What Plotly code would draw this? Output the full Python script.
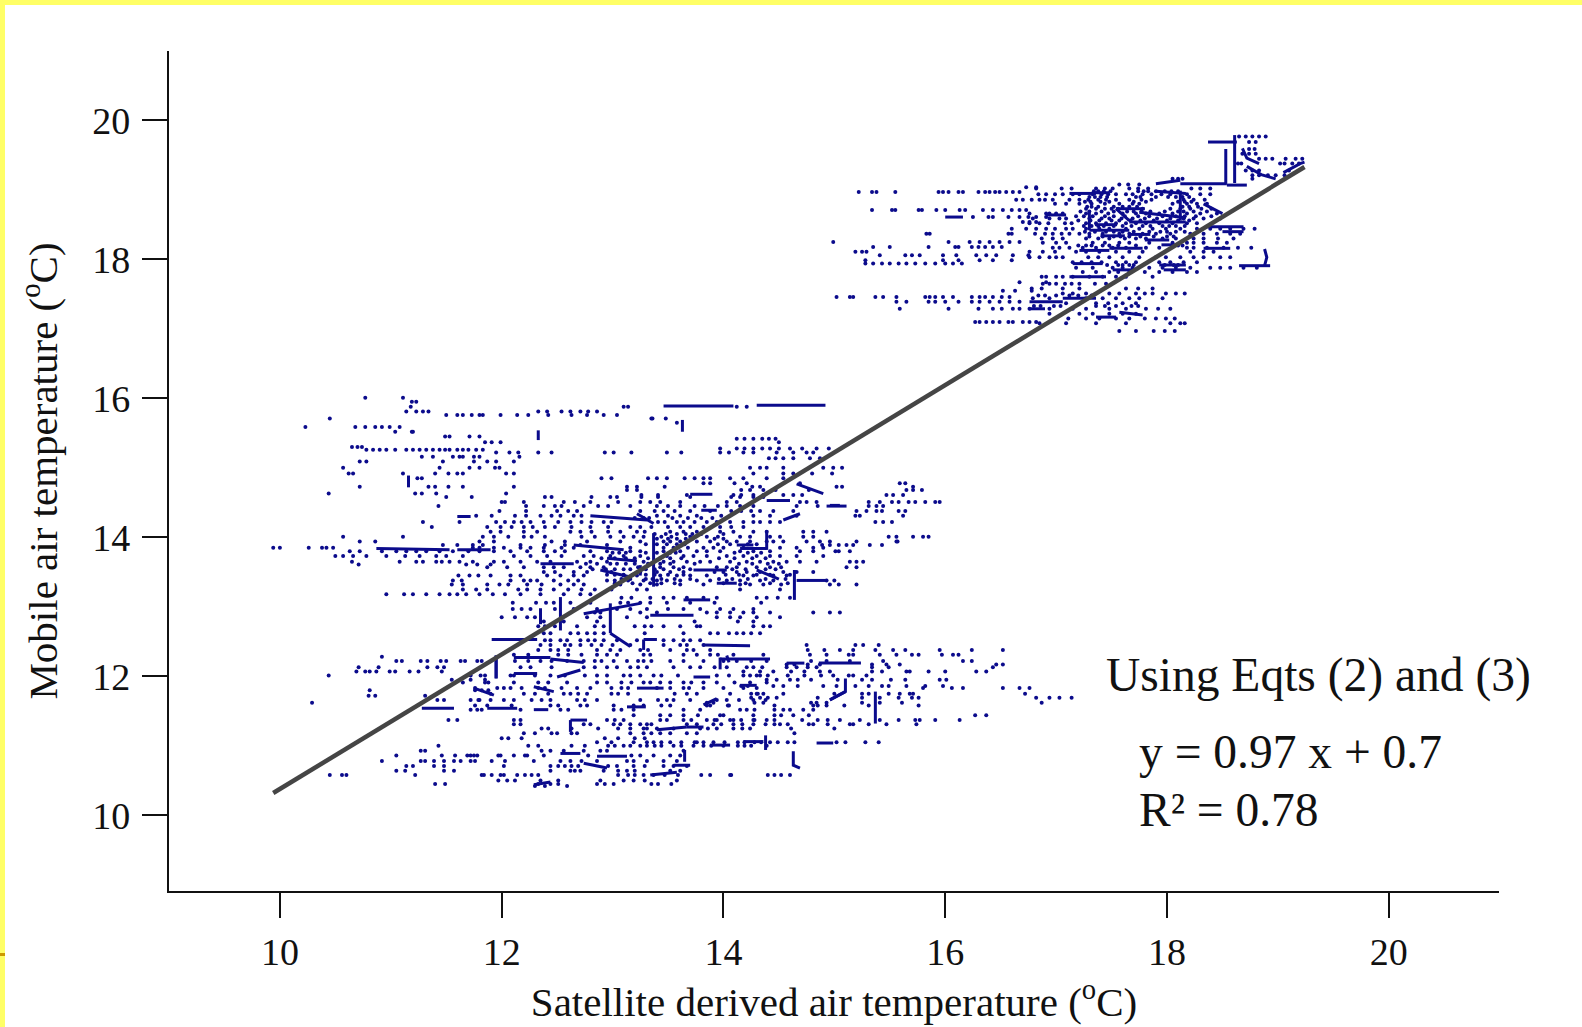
import plotly.graph_objects as go

# Fitted line
fit_x = [9.94, 19.24]
fit_y = [10.32, 19.33]

x_ticks = [10, 12, 14, 16, 18, 20]
y_ticks = [10, 12, 14, 16, 18, 20]

# Separate dots: (mobile temperature, [satellite temperatures])
upper_rows = [
    (19.77, [18.65, 18.71, 18.77, 18.83, 18.89]),
    (19.69, [18.74, 18.8]),
    (19.59, [18.74, 18.79]),
    (19.52, [18.68, 18.74, 18.8]),
    (19.45, [18.83, 18.89, 18.95, 19.07, 19.16, 19.22]),
    (19.38, [18.64, 18.67, 19.02, 19.06, 19.13, 19.19]),
    (19.28, [18.71, 18.77, 18.83, 19.1]),
    (19.21, [18.77, 18.83, 18.91, 18.98, 19.06]),
    (19.16, [18.05, 18.1, 18.14, 18.77]),
    (19.08, [17.57, 17.65, 17.75]),
    (19.04, [16.73, 16.82]),
    (19.02, [16.82, 17.05, 17.14, 17.36, 17.44, 17.51, 17.66, 17.74, 17.83, 18.22, 18.3, 18.39]),
    (18.97, [15.22, 15.34, 15.38, 15.55, 15.94, 15.98, 16.03, 16.12, 16.16, 16.3, 16.36, 16.4, 16.45, 16.49, 16.55, 16.61, 16.67]),
    (18.94, [16.84, 16.91, 16.99, 17.06, 17.15, 17.21, 17.33, 17.41, 17.47, 17.54, 17.63, 17.69, 17.78, 17.86, 17.95, 18.03, 18.18, 18.3, 18.39]),
    (18.86, [16.64, 16.7, 16.78, 16.85, 16.9, 16.97, 17.12, 17.21, 17.29, 17.38, 17.45, 17.54, 17.66, 17.77, 17.86, 18.15, 18.24, 18.34]),
    (18.8, [16.99, 17.09, 17.21, 17.32, 17.44, 17.57, 17.69, 17.75, 18.05, 18.18, 18.27, 18.36]),
    (18.73, [17.27, 17.36, 17.44, 17.5, 17.56, 17.78, 18.03, 18.12, 18.21, 18.31, 18.4]),
    (18.71, [15.34, 15.52, 15.55, 15.76, 15.79, 15.92, 16.0, 16.13, 16.18, 16.34, 16.43, 16.52, 16.6, 16.67, 16.73]),
    (18.66, [16.76, 16.91, 16.94, 17.0, 17.06, 17.27, 17.36, 17.47, 17.6, 17.72, 17.81, 17.93, 18.05, 18.18, 18.3, 18.45]),
    (18.61, [16.25, 16.39, 16.43, 16.57, 16.67, 16.75, 16.82, 16.91]),
    (18.59, [16.79, 16.94, 17.03, 17.09, 17.3, 17.41, 17.48, 17.59, 17.69, 17.8, 17.91, 18.03, 18.15, 18.24, 18.33, 18.48]),
    (18.54, [16.7, 16.76, 16.82]),
    (18.52, [16.76, 16.85, 16.93, 17.08, 17.14, 17.27, 17.36, 17.45, 17.54, 17.63, 17.72, 17.81, 17.93, 18.05, 18.18, 18.27]),
    (18.44, [16.6, 16.73, 16.82, 16.91, 16.99, 17.09, 17.15, 17.27, 17.39, 17.48, 17.63, 17.75, 17.87, 17.99, 18.12, 18.27, 18.39, 18.48, 18.57, 18.69, 18.79]),
    (18.37, [15.83, 15.86, 16.57, 16.6, 16.81, 16.9, 16.97, 17.05, 17.12, 17.21, 17.3, 17.42, 17.57, 17.66, 17.78, 17.9, 18.03, 18.21, 18.33, 18.45, 18.57, 18.66]),
    (18.3, [16.87, 16.97, 17.06, 17.27, 17.38, 17.48, 17.62, 17.72, 17.81, 17.96, 18.08, 18.24, 18.33, 18.46, 18.6]),
    (18.25, [14.99, 16.03, 16.22, 16.31, 16.4, 16.49, 16.58, 16.67]),
    (18.24, [16.88, 17.0, 17.09, 17.33, 17.44, 17.57, 17.66, 17.84, 18.05, 18.18, 18.24, 18.33, 18.45, 18.54]),
    (18.18, [15.35, 15.5, 15.85, 16.09, 16.12, 16.24, 16.3, 16.36, 16.43, 16.51]),
    (18.17, [16.97, 17.03, 17.12, 17.24, 17.36, 17.51, 17.63, 17.81, 17.93, 18.18, 18.24, 18.36, 18.51, 18.64, 18.76]),
    (18.11, [15.19, 15.25, 15.29, 16.76, 16.88, 16.99, 17.18, 17.27, 17.39, 17.54, 17.66, 17.78, 18.21, 18.33, 18.42]),
    (18.06, [15.41, 15.64, 15.7, 15.77, 15.98, 16.1, 16.28, 16.37, 16.46, 16.61, 16.75]),
    (18.03, [16.76, 16.85, 16.94, 17.0, 17.06, 17.29, 17.38, 17.48, 17.6, 17.75, 17.9, 17.99, 18.12, 18.24, 18.33, 18.48, 18.57]),
    (17.99, [15.28, 15.98, 16.12, 16.31, 16.43, 16.6]),
    (17.96, [17.15, 17.23, 17.32, 17.41, 17.54, 17.63, 17.72, 17.93, 18.03, 18.15, 18.27]),
    (17.94, [15.28, 15.35, 15.43, 15.5, 15.58, 15.65, 15.73, 15.82, 15.91, 16.0, 16.07, 16.15]),
    (17.88, [17.18, 17.33, 17.51, 17.6, 17.69, 17.84, 17.96, 18.08, 18.21, 18.39, 18.48, 18.57, 18.69, 18.81]),
    (17.82, [17.24, 17.36, 17.48, 17.56, 17.66, 17.8, 17.93, 18.05, 18.18, 18.27]),
    (17.75, [16.87, 16.91, 17.0, 17.06, 17.15, 17.3, 17.42, 17.54, 17.63, 17.87]),
    (17.67, [16.67, 16.91]),
    (17.65, [16.88, 16.94, 17.0, 17.08, 17.14, 17.21, 17.35, 17.45]),
    (17.58, [16.78, 16.87, 17.06, 17.21, 17.63, 17.74, 17.87]),
    (17.55, [16.52, 16.63, 16.78]),
    (17.51, [17.06, 17.15, 17.27, 17.48, 17.57, 17.72, 17.8, 17.87, 17.99, 18.08, 18.16]),
    (17.46, [15.02, 15.14, 15.17, 15.37, 15.44, 15.56, 15.82, 15.86, 15.91, 15.98, 16.07, 16.24, 16.31, 16.36, 16.43, 16.51, 16.58]),
    (17.44, [16.79, 16.94, 17.27, 17.42, 17.54, 17.66, 17.75, 17.96]),
    (17.39, [15.56, 15.65, 15.85, 15.91, 16.0, 16.12, 16.24, 16.31, 16.4, 16.49, 16.58, 16.67]),
    (17.37, [17.09, 17.36, 17.47, 17.6, 17.72]),
    (17.29, [15.59, 16.03, 16.3, 16.43, 16.51, 16.61, 16.67, 16.76, 16.94, 17.15, 17.27, 17.48, 17.63, 17.81, 17.92, 18.03]),
    (17.22, [16.94, 17.21, 17.33, 17.48, 17.6, 17.72]),
    (17.15, [17.11, 17.27, 17.39, 17.54, 17.66, 17.8, 17.9, 17.99, 18.07]),
    (17.1, [16.27, 16.31, 16.37, 16.43, 16.49, 16.57, 16.61, 16.7, 16.76, 16.82]),
    (17.08, [16.85, 17.09, 17.36, 17.63, 18.03, 18.12, 18.16]),
    (16.97, [17.57, 17.72, 17.88, 17.98, 18.07]),
]

# Extra dots in the two darkest knots of the cloud
upper_core_rows = [
    (18.98, [17.34, 17.38, 17.43, 17.49, 17.74, 17.79, 17.83, 17.9, 17.98, 18.04, 18.1]),
    (18.9, [17.3, 17.35, 17.4, 17.46, 17.72, 17.76, 17.9, 18.01, 18.08, 18.14, 18.2]),
    (18.83, [17.26, 17.31, 17.4, 17.48, 17.7, 17.81, 18.1, 18.16, 18.22]),
    (18.76, [17.28, 17.32, 17.38, 17.52, 17.6, 17.66, 17.73, 18.14, 18.2, 18.28]),
    (18.69, [17.22, 17.3, 17.41, 17.52, 17.64, 17.7, 17.77, 17.85, 17.98, 18.1, 18.15, 18.24, 18.36]),
    (18.62, [17.18, 17.25, 17.33, 17.44, 17.52, 17.62, 17.74, 17.84, 17.96, 18.08, 18.16, 18.26, 18.4]),
    (18.56, [17.2, 17.31, 17.39, 17.5, 17.57, 17.67, 17.76, 17.88, 18.0, 18.1, 18.2]),
    (18.48, [17.25, 17.32, 17.38, 17.43, 17.52, 17.6, 17.68, 17.78, 17.85, 17.96, 18.02, 18.08, 18.16]),
    (18.4, [17.26, 17.35, 17.45, 17.52, 17.6, 17.7, 17.84, 17.94, 18.0, 18.08, 18.16]),
    (18.33, [17.3, 17.42, 17.52, 17.58, 17.66, 17.76, 17.88, 18.0, 18.06]),
    (18.2, [17.2, 17.27, 17.32, 17.42, 17.48, 17.56, 17.72, 18.1, 18.14]),
    (17.92, [17.46, 17.56, 17.6, 17.66, 17.7, 17.98, 18.06, 18.1]),
    (17.48, [16.84, 16.9, 17.0, 17.12, 17.2, 17.32]),
    (17.33, [16.8, 16.86, 16.98, 17.04, 17.36, 17.44, 17.54, 17.68, 17.74]),
]
central_core_rows = [
    (14.28, [13.2, 13.28, 13.33, 13.54, 13.68, 13.8, 13.9]),
    (14.05, [13.38, 13.48, 13.58, 13.66, 13.72, 13.8, 14.0]),
    (13.98, [13.4, 13.5, 13.58, 13.66, 13.72, 13.92, 14.0]),
    (13.9, [13.3, 13.4, 13.49, 13.58, 13.65, 13.95, 14.06, 14.22, 14.3]),
    (13.78, [13.0, 13.06, 13.12, 13.3, 13.4, 13.52, 13.57, 14.1, 14.22, 14.34]),
    (13.7, [12.9, 13.02, 13.12, 13.2, 13.32, 13.43, 13.52, 13.62, 13.96, 14.1, 14.26, 14.38]),
    (13.62, [12.76, 12.86, 12.98, 13.04, 13.12, 13.2, 13.32, 13.43, 13.52, 13.74, 14.14, 14.26, 14.4, 14.5]),
    (13.54, [12.82, 12.94, 13.02, 13.1, 13.16, 13.3, 13.38, 13.46, 13.6, 13.7, 14.08, 14.2, 14.38, 14.47]),
    (13.46, [12.95, 13.02, 13.1, 13.18, 13.3, 13.38, 13.5, 13.64, 14.02, 14.14, 14.3, 14.42, 14.6]),
    (13.4, [13.08, 13.16, 13.3, 13.36, 13.44, 13.56, 13.7, 13.96, 14.08, 14.22, 14.38, 14.56]),
    (13.34, [13.02, 13.18, 13.34, 13.44, 13.56, 14.0, 14.2, 14.42, 14.58]),
]

middle_rows = [
    (16.01, [10.77, 11.11]),
    (15.95, [11.19, 11.23]),
    (15.88, [11.18, 13.1, 13.14, 14.12, 14.21]),
    (15.81, [11.14, 11.23, 11.29, 11.34, 12.33, 12.41, 12.54, 12.62, 12.71, 12.78, 12.86]),
    (15.76, [11.5, 11.6, 11.65, 11.73, 11.8, 11.83, 11.99, 12.14, 12.24, 12.42, 12.63, 12.77, 12.92, 13.04]),
    (15.71, [10.45, 13.35, 13.36, 13.48]),
    (15.65, [13.58]),
    (15.59, [10.23, 10.68, 10.77, 10.86, 10.92, 10.99, 11.08]),
    (15.52, [11.04, 11.2, 11.19]),
    (15.45, [11.49, 11.53, 11.71, 11.8]),
    (15.42, [14.12, 14.19, 14.27, 14.35, 14.41, 14.47]),
    (15.37, [11.85, 11.91, 11.99, 14.5]),
    (15.3, [10.65, 10.7, 10.74]),
    (15.28, [13.97, 14.12, 14.19, 14.27, 14.35, 14.42, 14.5, 14.6, 14.71, 14.84, 14.95]),
    (15.26, [10.78, 10.84, 10.9, 10.96, 11.04, 11.14, 11.2, 11.26, 11.32, 11.38, 11.44, 11.49, 11.53, 11.6, 11.65, 11.7, 11.77, 11.83]),
    (15.22, [11.95, 12.07, 12.15, 12.33, 12.45, 12.93, 13.01, 13.17, 13.49, 13.62, 13.97, 14.05, 14.18, 14.27, 14.48, 14.63, 14.75, 14.81]),
    (15.16, [11.28, 11.38, 11.56, 11.62, 11.65, 11.75, 11.8, 12.16]),
    (15.14, [14.41, 14.47, 14.54, 14.63, 14.78, 14.87]),
    (15.09, [10.72, 10.78, 11.47, 11.75, 11.87, 11.95, 12.11]),
    (15.0, [10.57, 11.44, 11.71, 11.8, 11.94, 11.98, 14.24, 14.33, 14.39, 14.54, 14.9, 14.99, 15.07]),
    (14.92, [10.62, 10.66, 11.11, 11.4, 11.52, 11.6, 11.65, 12.04, 12.11, 14.27, 14.54, 14.63, 14.8, 14.98]),
    (14.85, [11.24, 11.28, 12.9, 12.99, 13.32, 13.4, 13.49, 13.65, 13.74, 13.82, 13.88, 14.06, 14.18, 14.39, 14.54]),
    (14.78, [13.82, 13.88, 14.1, 14.21, 14.69, 15.59, 15.64]),
    (14.73, [10.72, 11.34, 11.4, 11.52, 11.65, 12.11, 13.13, 13.22, 13.47, 14.26, 14.33, 15.02, 15.07, 15.71]),
    (14.68, [13.13, 13.22, 14.16, 14.24, 14.36, 14.47, 14.77, 15.65, 15.71, 15.79]),
    (14.63, [10.44, 11.22, 11.28, 11.41, 12.04]),
    (14.61, [13.26, 13.41, 13.67, 14.09, 14.16, 14.27, 14.36, 14.54, 14.63, 14.71, 15.47, 15.53, 15.62]),
    (14.58, [11.5, 11.73, 12.39, 12.45, 12.81, 12.98, 13.04, 13.26, 13.41, 13.7, 14.07, 14.15, 14.27, 14.36]),
    (14.51, [12.0, 12.03, 12.2, 12.56, 12.66, 12.8, 13.05, 13.25, 13.34, 13.43, 13.61, 14.03, 14.12, 14.69, 14.75, 14.84, 15.31, 15.41, 15.52, 15.58, 15.67, 15.73, 15.82, 15.91, 15.95]),
    (14.45, [11.43, 12.22, 12.38, 12.48, 12.54, 12.74, 12.87, 12.96, 13.16, 13.4, 13.5, 13.61, 13.74, 13.83, 13.95, 14.03, 14.15, 14.27, 14.66, 14.85, 15.31, 15.38, 15.44]),
    (14.38, [11.98, 12.22, 12.5, 12.6, 12.68, 13.25, 13.38, 13.46, 13.56, 13.7, 13.88, 14.07, 14.16, 14.25, 14.33, 14.45, 14.63, 15.2, 15.29, 15.38, 15.43, 15.58, 15.64]),
    (14.31, [11.77, 11.91, 12.12, 12.22, 12.35, 12.45, 12.53, 12.65, 12.72, 13.4, 13.5, 13.61, 13.76, 13.98, 14.27, 14.42, 14.66, 15.19, 15.23, 15.62]),
    (14.22, [11.29, 11.62, 11.95, 12.03, 12.11, 12.18, 12.26, 12.38, 12.51, 12.62, 12.72, 12.81, 12.92, 12.99, 13.41, 13.47, 13.58, 13.64, 13.74, 13.85, 13.94, 14.06, 14.18, 14.27, 14.33, 14.42, 14.51, 15.37, 15.44, 15.52]),
    (14.15, [11.37, 11.87, 11.99, 12.09, 12.2, 12.28, 12.39, 12.48, 12.63, 12.8, 12.96, 13.16, 13.25, 13.35, 13.5, 13.61, 13.7, 13.82, 13.97, 14.07, 14.18]),
    (14.08, [11.9, 11.99, 12.2, 12.32, 12.62, 12.71, 12.81, 12.96, 13.07, 13.22, 13.29, 13.52, 13.64, 13.76, 13.97, 14.09, 14.27, 14.39, 14.72, 14.81, 14.93]),
    (14.01, [10.57, 11.11, 11.83, 11.93, 12.06, 12.2, 12.27, 12.39, 12.72, 12.84, 12.98, 13.1, 13.19, 13.28, 13.44, 13.53, 13.7, 13.85, 13.95, 14.15, 14.24, 14.42, 14.51, 14.72, 14.81, 15.49, 15.56, 15.71, 15.8, 15.85]),
    (13.94, [10.72, 10.86, 11.8, 11.93, 12.45, 12.57, 12.77, 13.07, 13.25, 13.46, 13.52, 13.61, 13.76, 13.88, 14.03, 14.12, 14.24, 14.39, 14.45, 14.54, 14.75, 14.87, 14.96, 15.2, 15.56, 15.57]),
    (13.89, [11.47, 11.6, 11.74, 11.83, 12.17, 12.39, 12.57, 12.71, 12.95, 14.89, 14.96, 15.04, 15.11, 15.17, 15.32, 15.43]),
    (13.85, [9.94, 10.0, 10.26, 10.38, 10.42, 10.48, 11.74, 11.8, 11.93, 12.02, 12.17, 12.26, 12.38, 12.54, 12.65, 13.16, 13.46, 13.55, 13.68, 13.82, 13.91, 14.0, 14.18, 14.51, 14.66, 14.81, 14.9]),
    (13.8, [10.63, 10.72, 10.92, 11.05, 11.14, 11.23, 11.32, 11.44, 11.56, 11.7, 11.8, 11.93, 12.08, 12.23, 12.38, 12.48, 12.57, 12.8, 12.95, 13.16, 13.25, 13.46, 13.61, 13.76, 13.85, 13.97, 14.15, 14.27, 14.42, 14.69, 14.81, 15.01, 15.04, 15.14]),
    (13.73, [10.5, 10.57, 10.66, 10.78, 10.96, 11.13, 11.26, 11.41, 11.5, 11.65, 12.11, 12.26, 12.41, 12.54, 12.74, 12.83, 12.98, 13.1, 13.25, 13.49, 13.64, 13.73, 13.85, 14.03, 14.18, 14.3, 14.42, 14.51, 14.66, 14.9]),
    (13.65, [10.65, 11.08, 11.23, 11.29, 11.41, 11.46, 11.53, 11.62, 11.74, 11.93, 12.02, 12.17, 12.32, 12.44, 12.68, 12.8, 12.95, 13.28, 13.46, 13.55, 13.67, 13.79, 13.88, 14.06, 14.21, 14.33, 14.45, 14.57, 14.69, 14.84, 15.14, 15.2, 15.26]),
    (13.61, [10.71, 11.68, 11.78, 11.9]),
    (13.57, [11.87, 12.05, 12.2, 12.38, 12.47, 12.56, 12.71, 12.8, 12.92, 13.23, 13.43, 13.55, 13.64, 13.94, 14.03, 14.12, 14.3, 14.42, 14.52, 15.11, 15.2]),
    (13.5, [12.38, 12.48, 12.65, 12.77, 12.99, 13.25, 13.4, 13.52, 13.64, 13.92, 14.0, 14.12, 14.21, 14.33, 14.54, 14.66, 14.81]),
    (13.45, [11.61, 11.71, 11.79, 11.9, 12.08, 12.17, 12.41, 12.53, 12.65, 12.74, 13.1, 13.22, 13.43, 13.58, 13.7, 13.85, 14.18, 14.27, 14.45, 14.57]),
    (13.38, [11.56, 11.64, 12.08, 12.2, 12.26, 12.32, 12.47, 12.6, 12.69, 12.95, 13.02, 13.14, 13.28, 13.4, 13.49, 13.61, 13.76, 13.88, 14.03, 14.15, 14.33, 14.45, 14.93, 15.0]),
    (13.32, [11.55, 11.65, 11.87, 11.98, 12.06, 12.23, 12.36, 12.53, 12.65, 12.74, 13.07, 13.25, 13.4, 13.61, 13.82, 14.15, 14.24, 14.36, 14.52, 14.96, 15.04, 15.2]),
    (13.25, [11.65, 11.77, 11.87, 12.15, 12.23, 12.35, 12.47, 12.6, 12.72, 12.84, 12.99, 13.22, 13.31, 14.15, 14.51]),
    (13.18, [10.96, 11.12, 11.2, 11.32, 11.44, 11.53, 11.6, 11.68, 11.8, 11.92, 12.03, 12.17, 12.35, 12.56, 12.71, 12.8]),
    (13.13, [13.08, 13.17, 13.34, 13.46, 13.55, 13.67, 13.82, 13.94, 14.3, 14.39, 14.49, 14.6]),
    (13.06, [12.1, 12.31, 12.4, 12.47, 12.62, 12.8, 13.07, 13.14, 13.25, 13.34, 13.49, 13.7, 13.92, 14.34]),
    (12.97, [12.1, 12.18, 12.26, 12.48, 12.65, 12.86, 13.04, 13.16, 13.31, 13.5, 13.64, 13.79, 13.97, 14.09, 14.27]),
    (12.92, [12.84, 12.89, 13.25, 13.4, 13.85, 13.94, 14.06, 14.18, 14.27, 14.42, 14.81, 14.96, 15.05]),
    (12.85, [12.0, 12.12, 12.23, 12.3, 12.77, 12.89, 13.13, 13.31, 13.94, 14.06, 14.15, 14.3, 14.51]),
    (12.79, [12.38, 12.56, 12.86, 13.74, 14.13, 14.27]),
    (12.72, [12.33, 12.39, 12.48, 12.68, 12.84, 12.92, 13.2, 13.29, 13.35, 13.46, 13.61, 13.76, 13.79, 14.27, 14.36, 14.42]),
]

lower_rows = [
    (12.62, [12.38, 12.44, 12.62, 12.69, 12.77, 12.84, 12.92, 13.29, 13.64, 13.88, 13.95, 14.05, 14.12, 14.18, 14.25, 14.33]),
    (12.52, [12.39, 12.44, 12.53, 12.59, 12.71, 12.78, 12.84, 12.92, 13.04, 13.22, 13.46, 13.55, 13.64, 13.7, 13.79]),
    (12.45, [12.35, 12.44, 12.57, 12.62, 12.71, 12.81, 12.9, 13.0, 13.16, 13.46, 13.61, 13.67, 13.82, 14.75, 15.19, 15.26, 15.4]),
    (12.38, [12.33, 12.44, 12.51, 12.6, 12.86, 12.98, 13.07, 13.25, 13.32, 13.52, 13.67, 13.73, 13.88, 14.76, 14.91, 15.05, 15.17, 15.37, 15.53, 15.64, 15.95, 16.24, 16.52]),
    (12.31, [12.11, 12.24, 12.51, 12.6, 12.72, 12.86, 12.95, 13.04, 13.28, 13.34, 13.64, 13.76, 13.88, 13.95, 14.09, 14.36, 14.78, 14.93, 15.13, 15.17, 15.41, 15.56, 15.7, 15.76, 15.97, 16.07, 16.12]),
    (12.28, [10.92]),
    (12.22, [11.05, 11.1, 11.27, 11.33, 11.45, 11.5, 11.63, 11.67, 11.78, 11.82, 12.12, 12.24, 12.35, 12.45, 12.59, 12.74, 12.84, 12.9, 13.01, 13.13, 13.23, 13.28, 13.35, 13.52, 13.64, 13.82, 14.0, 14.12, 14.25, 14.39, 14.79, 14.93, 15.14, 15.44, 16.16, 16.24]),
    (12.17, [14.57, 14.64, 14.76, 14.87, 15.34, 15.47, 15.59, 16.46, 16.52]),
    (12.13, [10.71, 10.89, 11.33, 11.42, 11.48, 12.17, 12.26, 12.45, 12.74, 12.84, 12.95, 13.04, 13.16, 13.23, 13.31, 13.55, 13.7, 13.79, 13.92, 14.03, 14.21, 14.27, 14.35, 14.57, 14.66, 14.76, 14.84, 15.34, 15.49, 16.43]),
    (12.07, [10.69, 10.77, 10.81, 10.87, 10.99, 11.04, 11.17, 11.25, 11.46, 14.18, 14.33, 14.45, 14.61, 14.73, 14.87, 14.96, 15.34, 15.43, 15.65, 15.68, 15.85, 16.0, 16.28, 16.37]),
    (12.01, [10.44, 11.72, 11.81, 11.85, 12.08, 12.11, 12.3, 12.44, 12.57, 12.75, 12.86, 12.95, 13.1, 13.16, 13.25, 13.37, 13.44, 13.59, 13.94, 14.05, 14.18, 14.24, 14.3, 14.33, 14.4, 14.58, 14.73, 14.88, 14.99, 15.13, 15.17, 15.29]),
    (11.95, [11.55, 11.72, 11.85, 14.39, 14.48, 14.6, 14.67, 14.79, 15.03, 15.25, 15.34, 15.51, 15.64, 15.95, 16.01]),
    (11.91, [11.65, 11.85, 11.88, 12.11, 12.33, 12.42, 12.59, 12.86, 12.95, 13.08, 13.17, 13.28, 13.34, 13.43, 13.52, 13.64, 13.71, 13.82, 13.94, 14.1, 14.24, 14.39]),
    (11.86, [14.16, 14.22, 14.45, 14.54, 14.67, 14.9, 15.02, 15.19, 15.31, 15.43, 15.49, 15.65, 15.82, 15.98]),
    (11.83, [11.76, 11.96, 12.02, 12.08, 12.18, 12.33, 12.39, 12.54, 12.68, 12.8, 12.99, 13.08, 13.14, 13.4, 13.52, 13.64, 13.69, 13.82, 14.0, 14.18, 14.3, 15.8, 16.06, 16.16, 16.52, 16.67, 16.76]),
    (11.8, [10.81, 11.76, 11.82, 11.88]),
    (11.75, [11.9, 12.2, 12.3, 12.42, 12.56, 12.62, 12.69, 12.77, 12.99, 13.05, 13.14, 13.56, 13.67, 13.76, 14.06, 14.25, 14.31, 14.3, 14.36, 14.54, 15.0, 15.25, 15.31, 15.49, 15.59, 15.68, 15.71, 16.72]),
    (11.72, [10.8, 10.86, 11.31]),
    (11.69, [14.25, 14.33, 14.4, 14.48, 14.85, 15.25, 15.41, 15.58, 15.7, 15.76, 16.82, 16.94, 17.03, 17.14]),
    (11.66, [11.42, 11.48, 11.72, 11.79, 11.8, 11.9, 12.02, 12.11, 12.27, 12.36, 12.44, 12.68, 12.75, 12.86, 13.25, 13.41, 13.49, 13.55, 13.7, 13.94, 14.03, 14.14, 14.27, 14.38]),
    (11.62, [10.29, 13.85, 13.91, 14.28, 14.36, 14.79, 14.84, 14.93, 15.25, 15.41, 15.61, 16.87]),
    (11.58, [11.76, 11.87, 12.09, 12.44, 12.51, 12.71, 12.77, 13.01, 13.19, 13.28, 13.44, 13.52, 13.85, 13.88, 14.04, 14.05, 14.46, 14.81, 14.85, 14.93, 15.09, 15.31, 15.76]),
    (11.52, [11.72, 11.78, 11.82, 12.17, 12.53, 12.6, 13.01, 13.08, 13.19, 13.64, 13.79, 14.15, 14.21, 14.28, 14.46, 14.54, 14.6, 14.72, 14.81]),
    (11.44, [13.19, 13.43, 13.52, 13.64, 13.77, 13.97, 14.0, 14.27, 14.46, 14.52, 14.63, 14.77, 16.27, 16.37]),
    (11.37, [11.52, 11.6, 12.11, 12.17, 12.95, 13.02, 13.1, 13.43, 13.49, 13.64, 13.71, 13.85, 13.92, 13.94, 14.06, 14.09, 14.16, 14.27, 14.28, 14.39, 14.46, 14.71, 14.85, 14.94, 15.05, 15.23, 15.41, 15.58, 15.73, 15.77, 15.91, 16.13]),
    (11.31, [12.11, 12.17, 12.74, 12.8, 13.01, 13.07, 13.16, 13.25, 13.31, 13.35, 13.67, 13.76, 13.91, 13.98, 14.09, 14.17, 14.27, 14.38, 14.46, 14.51, 14.58, 14.77, 14.81, 14.94, 15.14, 15.17, 15.31, 15.47, 15.74]),
    (11.25, [12.36, 12.42, 12.63, 12.87, 13.05, 13.16, 13.28, 13.31, 13.4, 13.55, 13.79, 13.86, 13.94, 14.09, 14.17, 14.24, 14.61, 15.0]),
    (11.18, [12.2, 12.3, 12.45, 12.5, 12.63, 12.68, 13.16, 13.28, 13.35, 13.43, 13.52, 13.67, 13.76, 14.64]),
    (11.11, [12.0, 12.06, 12.18, 12.93, 13.05, 13.2, 13.29]),
    (11.05, [12.86, 12.99, 13.19, 13.31, 13.37, 13.44, 13.52, 13.62, 13.74, 13.76, 13.82, 13.91, 14.01, 14.13, 14.19, 14.28, 14.34, 14.42, 14.49, 14.58, 14.64, 15.02, 15.1, 15.28, 15.4]),
    (11.0, [11.43, 12.24, 12.33, 12.63, 12.75, 12.96, 13.02, 13.1, 13.16, 13.25, 13.31, 13.38, 13.44, 13.55, 13.62, 13.73, 13.82, 13.89, 14.0, 14.13, 14.19, 14.25, 14.39]),
    (10.93, [11.27, 11.31, 12.36, 12.44, 12.56, 12.74, 12.89, 12.95, 13.64]),
    (10.86, [11.05, 11.46, 11.58, 11.69, 11.75, 11.97, 12.11, 12.23, 11.72, 11.78, 11.99, 12.21, 12.38, 12.78, 13.17, 13.25, 13.37, 13.52, 13.61]),
    (10.78, [10.92, 11.27, 11.31, 11.39, 11.48, 11.57, 11.63, 11.76, 11.72, 11.91, 12.03, 12.29, 12.53, 12.62, 12.72, 12.86, 13.13, 13.19, 13.31, 13.46, 13.58]),
    (10.71, [11.14, 11.2, 11.39, 11.48, 12.02, 12.44, 12.51, 12.57, 12.63, 12.69, 12.96, 13.04, 13.19, 13.29, 13.46, 13.55, 13.67]),
    (10.64, [11.05, 11.13, 11.48, 11.57, 12.44, 12.62, 12.66, 12.71, 12.92, 13.05, 13.13, 13.2, 13.52, 13.61]),
    (10.58, [10.45, 10.56, 10.6, 11.22, 11.82, 11.84, 11.91, 11.99, 12.02, 12.14, 12.21, 12.27, 12.33, 13.05, 13.14, 13.2, 13.28, 13.37, 13.47, 13.59, 13.8, 13.88, 14.06, 14.07, 14.4, 14.46, 14.52, 14.6]),
    (10.5, [11.97, 12.05, 12.12, 12.35, 12.51, 12.89, 13.1, 13.19, 13.29, 13.58]),
    (10.45, [11.4, 11.49, 12.33, 12.44, 12.51, 12.86, 12.93, 13.01, 13.35, 13.41, 13.53]),
    (10.42, [12.3, 12.39, 12.59]),
]

# Places where the dots merge into a solid streak: points along each streak, with a break between streaks
streak_satellite = [
    13.46, 14.09, None, 14.3, 14.92, None, 14.93, 15.11, None, 12.8, 13.31, None, 13.22, 13.37, None, 11.6, 11.72, None,
    12.35, 12.65, None, 12.65, 13.1, None, 12.95, 13.22, None, 12.89, 13.16, None, 10.87, 11.53, None, 11.6, 11.9, None,
    12.74, 13.25, None, 13.34, 13.73, None, 13.64, 13.88, None, 14.66, 14.93, None, 14.15, 14.39, None, 13.73, 14.03, None,
    13.94, 14.12, None, 14.3, 14.5, None, 13.7, 13.9, None, 13.8, 13.94, None, 14.39, 14.6, None, 14.66, 14.78, 14.9, None,
    14.54, 14.69, None, 14.12, 14.27, None, 14.96, 15.05, None, 11.91, 12.32, None, 12.11, 12.44, None, 12.44, 12.74, None,
    12.11, 12.32, None, 12.5, 12.71, None, 12.98, 13.16, None, 13.28, 13.4, None, 13.82, 14.24, None, 13.97, 14.42, None,
    11.75, 11.93, None, 12.29, 12.47, None, 11.87, 12.14, None, 12.29, 12.42, None, 13.22, 13.46, None, 12.62, 12.77, None,
    13.4, 13.67, None, 13.67, 13.82, None, 13.88, 14.06, None, 14.18, 14.36, None, 12.53, 12.71, None, 12.86, 13.13, None,
    12.74, 12.95, None, 13.55, 13.7, None, 13.34, 13.58, None, 12.29, 12.44, None, 13.82, 13.94, None, 13.73, 13.88, None,
    14.15, 14.3, None, 13.13, 13.3, None, 14.84, 14.99, None, 14.57, 14.73, None, 14.96, 15.1, None, 14.86, 15.24, None,
    11.28, 11.57, None,
    17.9, 18.12, None, 18.12, 18.54, None, 18.54, 18.72, None, 17.12, 17.36, None, 16.91, 17.09, None, 17.3, 17.66, None,
    17.54, 17.8, None, 17.54, 17.66, None, 17.66, 18.17, None, 17.75, 18.17, None, 17.9, 18.17, None, 17.33, 17.48, None,
    17.8, 18.02, None, 17.95, 18.1, None, 17.21, 17.48, None, 17.48, 17.78, None, 17.15, 17.42, None, 17.93, 18.17, None,
    17.97, 18.17, None, 17.51, 17.7, None, 17.12, 17.45, None, 16.76, 17.06, None, 17.06, 17.36, None, 16.76, 16.9, None,
    17.57, 17.78, None, 17.36, 17.54, None, 18.33, 18.57, None, 18.36, 18.69, None, 18.5, 18.69, None, 18.33, 18.5, None,
    17.35, 17.55, None, 17.4, 17.62, None, 17.66, 17.85, None, 18.37, 18.63, None, 18.65, 18.93, None, 16.0, 16.16, None,
    18.68, 18.72, 18.83, None, 18.72, 18.85, 18.98, None, 19.05, 19.2, 19.24,
]
streak_mobile = [
    15.89, 15.89, None, 15.9, 15.9, None, 14.45, 14.45, None, 14.31, 14.25, None, 14.34, 14.2, None, 14.3, 14.3, None,
    13.62, 13.62, None, 13.89, 13.82, None, 13.7, 13.66, None, 13.53, 13.43, None, 13.84, 13.82, None, 13.82, 13.82, None,
    12.9, 13.05, None, 12.88, 12.88, None, 13.1, 13.1, None, 13.38, 13.38, None, 13.84, 13.84, None, 13.53, 13.53, None,
    13.34, 13.34, None, 13.53, 13.4, None, 14.62, 14.62, None, 14.39, 14.39, None, 14.53, 14.53, None, 14.77, 14.7, 14.63, None,
    14.25, 14.34, None, 13.89, 13.89, None, 14.46, 14.46, None, 12.53, 12.53, None, 12.27, 12.27, None, 12.25, 12.2, None,
    12.04, 12.04, None, 11.99, 12.09, None, 12.62, 12.43, None, 12.53, 12.53, None, 12.45, 12.44, None, 12.25, 12.25, None,
    11.83, 11.73, None, 11.85, 11.78, None, 11.54, 11.54, None, 11.52, 11.52, None, 11.83, 11.83, None, 11.37, 11.37, None,
    11.23, 11.27, None, 11.27, 11.27, None, 11.01, 11.01, None, 11.06, 11.06, None, 10.89, 10.89, None, 10.85, 10.85, None,
    10.75, 10.68, None, 10.72, 10.72, None, 10.58, 10.62, None, 10.44, 10.48, None, 11.59, 11.68, None, 11.99, 11.99, None,
    11.87, 11.87, None, 11.56, 11.56, None, 11.04, 11.04, None, 12.19, 12.19, None, 11.66, 11.78, None, 12.19, 12.19, None,
    11.54, 11.54, None,
    19.09, 19.14, None, 19.09, 19.09, None, 19.07, 19.07, None, 18.95, 18.95, None, 18.64, 18.64, None, 18.42, 18.42, None,
    18.73, 18.73, None, 18.73, 18.56, None, 18.54, 18.54, None, 18.68, 18.6, None, 18.98, 18.95, None, 18.96, 18.96, None,
    18.28, 18.28, None, 18.21, 18.21, None, 18.13, 18.13, None, 18.16, 18.16, None, 17.94, 17.94, None, 17.92, 17.92, None,
    17.85, 17.85, None, 17.85, 17.85, None, 17.75, 17.75, None, 17.39, 17.39, None, 17.44, 17.44, None, 17.29, 17.29, None,
    17.24, 17.2, None, 17.17, 17.17, None, 18.16, 18.16, None, 18.47, 18.47, None, 18.4, 18.4, None, 18.8, 18.66, None,
    18.5, 18.5, None, 18.34, 18.34, None, 18.36, 18.36, None, 19.69, 19.69, None, 17.91, 17.91, None, 18.61, 18.61, None,
    19.6, 19.46, 19.38, None, 19.34, 19.22, 19.16, None, 19.25, 19.38, 19.4,
]
# Upright streaks
stroke_satellite = [18.61, 18.61, None, 18.53, 18.53, None, 12.53, 12.53, None, 12.98, 12.98, None, 11.95, 11.95, None, 13.63, 13.63, None, 15.37, 15.37, None, 14.63, 14.63, 14.69, None, 15.1, 15.1, 14.96, None, 13.37, 13.37, None, 14.64, 14.64, None, 14.39, 14.39, None, 18.88, 18.9, 18.88, None, 12.33, 12.33, None, 11.16, 11.16, None, 11.95, 11.95, None, 13.97, 13.97, None, 14.38, 14.38, None, 13.65, 13.65, None, 12.62, 12.62, None, 18.12, 18.12, None, 17.3, 17.3, None, 13.25, 13.25, None, 13.28, 13.28, None, 12.35, 12.35, None, 14.03, 14.05]
stroke_mobile = [19.79, 19.1, None, 19.59, 19.09, None, 13.14, 12.66, None, 13.05, 12.62, None, 12.3, 11.97, None, 15.69, 15.52, None, 11.78, 11.32, None, 10.92, 10.72, 10.68, None, 11.97, 11.78, 11.66, None, 14.06, 13.29, None, 13.53, 13.1, None, 14.1, 13.82, None, 18.15, 18.03, 17.91, None, 15.54, 15.4, None, 14.89, 14.72, None, 12.3, 11.97, None, 12.27, 12.1, None, 11.15, 10.94, None, 10.94, 10.77, None, 11.37, 11.2, None, 18.99, 18.56, None, 18.71, 18.42, None, 13.6, 13.45, None, 12.53, 12.38, None, 12.98, 12.75, None, 12.3, 12.2]

scatter_x, scatter_y = [], []
for rows in (upper_rows, upper_core_rows, central_core_rows, middle_rows, lower_rows):
    for mobile, satellites in rows:
        scatter_x += satellites
        scatter_y += [mobile] * len(satellites)

NAVY = "#0b0b8c"
INK = "#111111"
FONT = "Liberation Serif"

fig = go.Figure()
fig.add_trace(go.Scatter(x=scatter_x, y=scatter_y, mode="markers",
                         marker=dict(size=4, color=NAVY, line=dict(width=0)), showlegend=False))
fig.add_trace(go.Scatter(x=streak_satellite, y=streak_mobile, mode="lines",
                         line=dict(color=NAVY, width=3), showlegend=False))
fig.add_trace(go.Scatter(x=stroke_satellite, y=stroke_mobile, mode="lines",
                         line=dict(color=NAVY, width=3), showlegend=False))
fig.add_trace(go.Scatter(x=fit_x, y=fit_y, mode="lines",
                         line=dict(color="#454545", width=4.5), showlegend=False))

W, H = 1582, 1027
L, R, T, B = 169, 83, 51, 136
pw, ph = W - L - R, H - T - B


def px(v):
    return (v - L) / pw


def py(v):
    return (H - B - v) / ph


frame = [
    (0, 0, W, 5, "#ffff66"),
    (0, 0, 5, H, "#ffff66"),
    (0, 953, 5, 956, "#cc9900"),
]
shapes = [dict(type="rect", xref="paper", yref="paper", x0=px(a), x1=px(c), y0=py(b), y1=py(d),
               fillcolor=col, line=dict(width=0), layer="below") for a, b, c, d, col in frame]


def note(text, x, y, size=47.5):
    return dict(text=text, xref="paper", yref="paper", x=px(x), y=py(y), xanchor="left", yanchor="middle",
                showarrow=False, font=dict(family=FONT, size=size, color=INK))


axis = dict(showgrid=False, zeroline=False, showline=True, linecolor=INK, linewidth=2.4,
            ticks="outside", ticklen=25, tickwidth=2.2, tickcolor=INK,
            tickfont=dict(family=FONT, size=38, color=INK))

fig.update_layout(
    width=W, height=H, margin=dict(l=L, r=R, t=T, b=B, autoexpand=False),
    paper_bgcolor="white", plot_bgcolor="white", showlegend=False, shapes=shapes,
    xaxis=dict(axis, range=[9.0, 20.994], tickvals=x_ticks, ticklabelstandoff=1,
               title=dict(text="Satellite derived air temperature (<sup>o</sup>C)", standoff=7,
                          font=dict(family=FONT, size=41, color=INK))),
    yaxis=dict(axis, range=[8.91, 21.0], tickvals=y_ticks, ticklabelstandoff=4,
               title=dict(text="Mobile air temperature (<sup>o</sup>C)", standoff=22,
                          font=dict(family=FONT, size=41, color=INK))),
    annotations=[
        note("Using Eqts (2) and (3)", 1104, 675),
        note("y = 0.97 x + 0.7", 1137, 752),
        note("R² = 0.78", 1137, 810),
    ],
)

fig.write_html("out.html", config=dict(displayModeBar=False),
               post_script="document.body.style.margin='0';document.body.style.overflow='hidden';")
